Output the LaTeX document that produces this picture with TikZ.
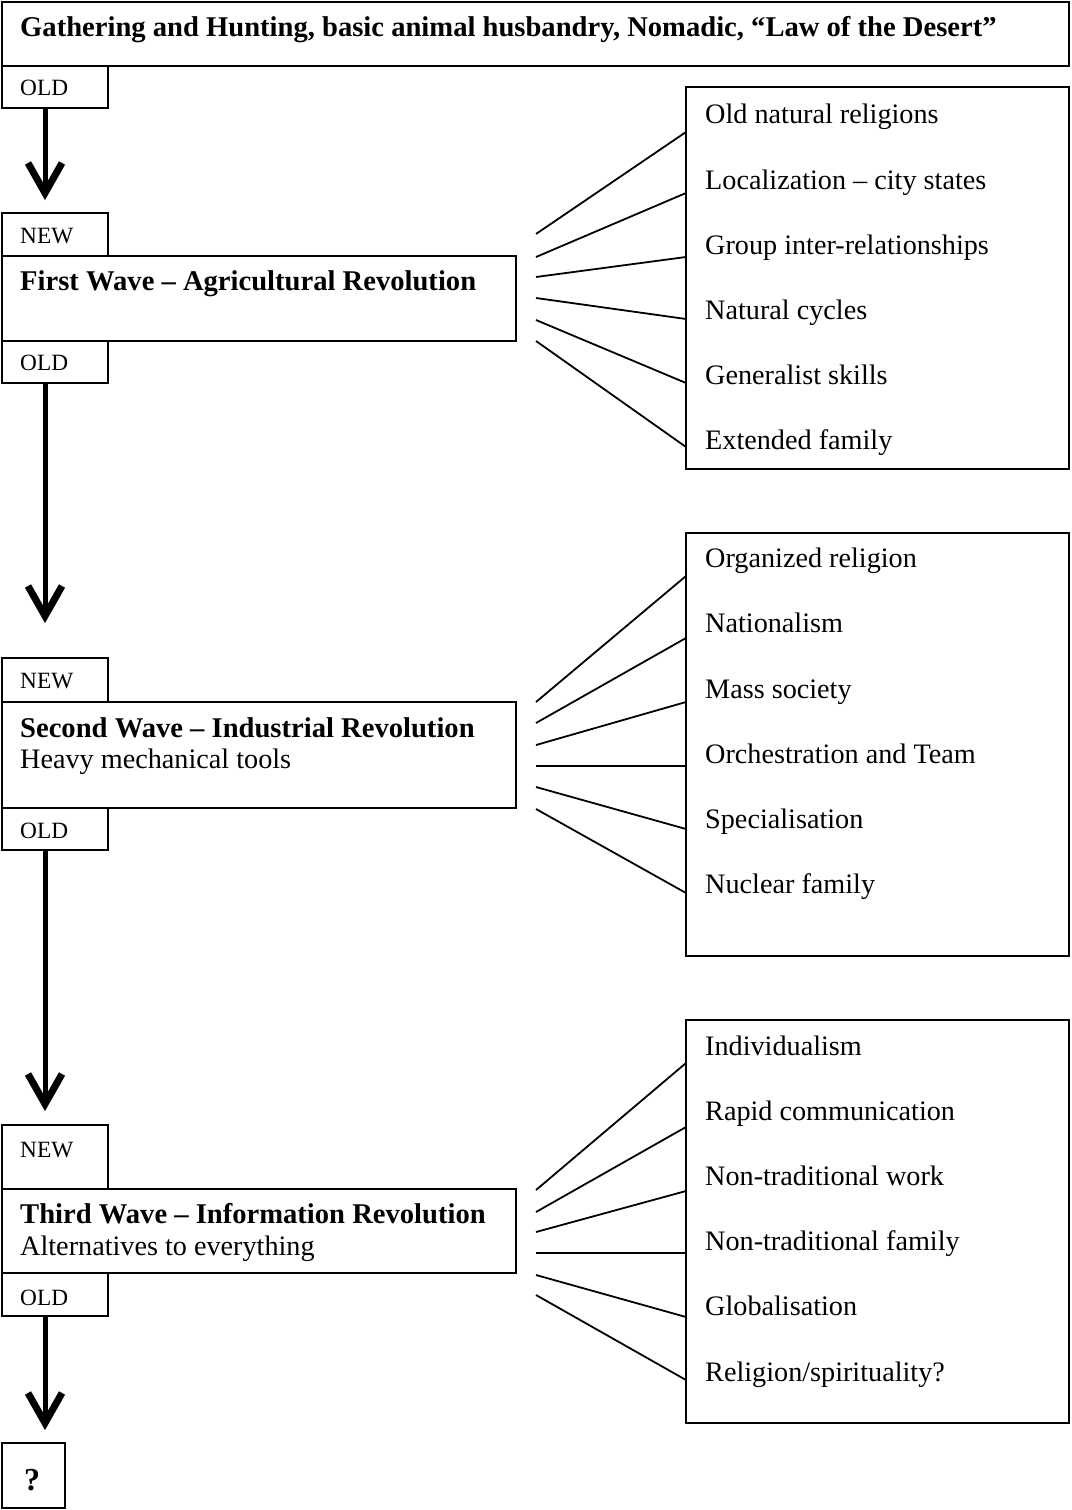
\documentclass[tikz,border=0pt]{standalone}
\usepackage{fontspec}
\setmainfont{Liberation Serif}
\usetikzlibrary{calc}
\begin{document}
\begin{tikzpicture}[x=1pt,y=-1pt,
  box/.style={draw, line width=1.7pt, rectangle, inner sep=0pt, outer sep=0pt, anchor=north west},
  txt/.style={anchor=base west, inner sep=0pt, font=\fontsize{28.2}{32}\selectfont},
  ttl/.style={anchor=base west, inner sep=0pt, font=\fontsize{28.6}{32}\selectfont\bfseries},
  small/.style={anchor=base west, inner sep=0pt, font=\fontsize{23.3}{26}\selectfont},
  link/.style={line width=1.8pt},
  shaft/.style={line width=5pt},
  barb/.style={line width=7pt, miter limit=10}]
\useasboundingbox (0,0) rectangle (1071,1510);
% boxes
\node[box, minimum width=1067pt, minimum height=64pt] (top) at (2,2) {};
\node[box, minimum width=106pt, minimum height=42pt] (old0) at (2,66) {};
\node[box, minimum width=106pt, minimum height=43pt] (new1) at (2,213) {};
\node[box, minimum width=514pt, minimum height=85pt] (wave1) at (2,256) {};
\node[box, minimum width=106pt, minimum height=42pt] (old1) at (2,341) {};
\node[box, minimum width=106pt, minimum height=44pt] (new2) at (2,658) {};
\node[box, minimum width=514pt, minimum height=106pt] (wave2) at (2,702) {};
\node[box, minimum width=106pt, minimum height=42pt] (old2) at (2,808) {};
\node[box, minimum width=106pt, minimum height=64pt] (new3) at (2,1125) {};
\node[box, minimum width=514pt, minimum height=84pt] (wave3) at (2,1189) {};
\node[box, minimum width=106pt, minimum height=43pt] (old3) at (2,1273) {};
\node[box, minimum width=63pt, minimum height=65pt] (q) at (2,1443) {};
\node[box, minimum width=383pt, minimum height=382pt] (list1) at (686,87) {};
\node[box, minimum width=383pt, minimum height=423pt] (list2) at (686,533) {};
\node[box, minimum width=383pt, minimum height=403pt] (list3) at (686,1020) {};
% texts
\node[ttl] (ttop) at (20,36) {Gathering and Hunting, basic animal husbandry, Nomadic, “Law of the Desert”};
\node[small] (told0) at (20,95) {OLD};
\node[small] (tnew1) at (20,243) {NEW};
\node[ttl] (tw1) at (20,290) {First Wave – Agricultural Revolution};
\node[small] (told1) at (20,370) {OLD};
\node[small] (tnew2) at (20,688) {NEW};
\node[ttl] (tw2) at (20,737) {Second Wave – Industrial Revolution};
\node[txt] (tw2b) at (20,768) {Heavy mechanical tools};
\node[small] (told2) at (20,838) {OLD};
\node[small] (tnew3) at (20,1157) {NEW};
\node[ttl] (tw3) at (20,1223) {Third Wave – Information Revolution};
\node[txt] (tw3b) at (20,1255) {Alternatives to everything};
\node[small] (told3) at (20,1305) {OLD};
\node[ttl, font=\fontsize{32}{36}\selectfont\bfseries] (tq) at (24,1490) {?};
% list 1
\node[txt] (a1) at (705,123) {Old natural religions};
\node[txt] (a2) at (705,189) {Localization – city states};
\node[txt] (a3) at (705,254) {Group inter-relationships};
\node[txt] (a4) at (705,319) {Natural cycles};
\node[txt] (a5) at (705,384) {Generalist skills};
\node[txt] (a6) at (705,449) {Extended family};
% list 2
\node[txt] (b1) at (705,567) {Organized religion};
\node[txt] (b2) at (705,632) {Nationalism};
\node[txt] (b3) at (705,698) {Mass society};
\node[txt] (b4) at (705,763) {Orchestration and Team};
\node[txt] (b5) at (705,828) {Specialisation};
\node[txt] (b6) at (705,893) {Nuclear family};
% list 3
\node[txt] (c1) at (705,1055) {Individualism};
\node[txt] (c2) at (705,1120) {Rapid communication};
\node[txt] (c3) at (705,1185) {Non-traditional work};
\node[txt] (c4) at (705,1250) {Non-traditional family};
\node[txt] (c5) at (705,1315) {Globalisation};
\node[txt] (c6) at (705,1381) {Religion/spirituality?};
% arrows
\foreach \n/\o/\t in {0/old0/197, 1/old1/620, 2/old2/1108, 3/old3/1427}{
  \coordinate (tip\n) at (45,\t);
  \draw[shaft] (\o.south -| tip\n) -- ($(tip\n)+(0,-6)$);
  \draw[barb] ($(tip\n)+(-17,-34)$) -- ($(tip\n)+(0,-4)$) -- ($(tip\n)+(17,-34)$);
}
% connector lines
\foreach \i/\l/\r in {1/234/132, 2/257/193, 3/277/257, 4/298/319, 5/320/383, 6/341/447}{
  \coordinate (la\i) at (536,\l);
  \draw[link] (la\i) -- (list1.west |- 0,\r);
}
\foreach \i/\l/\r in {1/702/576, 2/723/638, 3/745/702, 4/766/766, 5/787/829, 6/809/893}{
  \coordinate (lb\i) at (536,\l);
  \draw[link] (lb\i) -- (list2.west |- 0,\r);
}
\foreach \i/\l/\r in {1/1190/1063, 2/1212/1127, 3/1232/1191, 4/1253/1253, 5/1275/1317, 6/1295/1380}{
  \coordinate (lc\i) at (536,\l);
  \draw[link] (lc\i) -- (list3.west |- 0,\r);
}
\end{tikzpicture}
\end{document}
